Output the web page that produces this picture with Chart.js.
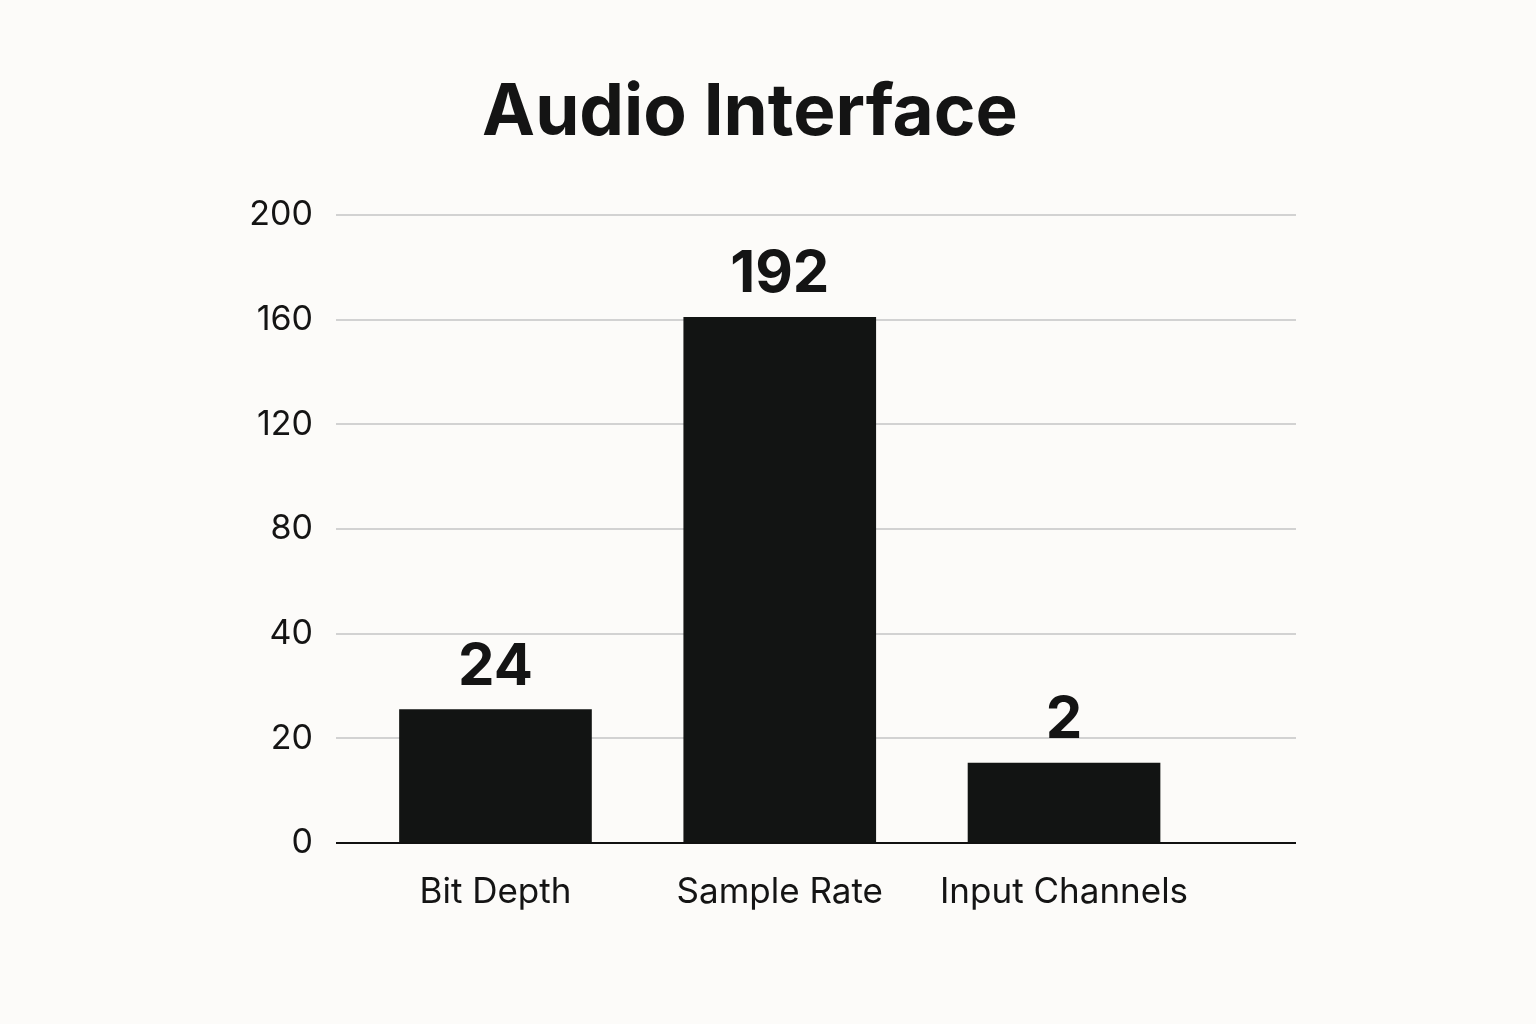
<!DOCTYPE html>
<html>
<head>
<meta charset="utf-8">
<script src="https://cdn.jsdelivr.net/npm/chart.js@4.4.1/dist/chart.umd.min.js"></script>
<style>
  html, body { margin: 0; padding: 0; background: #fcfbf9; }
  #wrap { width: 1536px; height: 1024px; }
</style>
</head>
<body>
<div id="wrap"><canvas id="myChart" width="1536" height="1024"></canvas></div>
<script>
const categories = ['Bit Depth', 'Sample Rate', 'Input Channels']
// printed value above each bar
const shownValues = [24, 192, 2]
// bar top read against the axis ticks
const barHeights = [25.5, 161, 15.3]
const yTicks = [0, 20, 40, 80, 120, 160, 200]

// axis with evenly spaced ticks whose steps differ (0,20,40,80,...)
class StepScale extends Chart.LinearScale {
    buildTicks() {
        return yTicks.map(v => ({ value: v }))
    }
    getPixelForValue(value) {
        const n = yTicks.length - 1
        let i = 0
        while (i < n - 1 && value > yTicks[i + 1]) i++
        const pos = i + (value - yTicks[i]) / (yTicks[i + 1] - yTicks[i])
        return this.getPixelForDecimal(pos / n)
    }
    getValueForPixel(pixel) {
        const n = yTicks.length - 1
        const pos = Math.max(0, Math.min(n, this.getDecimalForPixel(pixel) * n))
        const i = Math.min(n - 1, Math.floor(pos))
        return yTicks[i] + (pos - i) * (yTicks[i + 1] - yTicks[i])
    }
}
StepScale.id = 'step'
StepScale.defaults = Chart.LinearScale.defaults
Chart.register(StepScale)

const valueLabels = {
    id: 'valueLabels',
    afterDatasetsDraw(chart) {
        const ctx = chart.ctx
        const meta = chart.getDatasetMeta(0)
        ctx.save()
        ctx.font = 'bold 58px Inter'
        ctx.fillStyle = '#141414'
        ctx.textAlign = 'center'
        ctx.textBaseline = 'alphabetic'
        meta.data.forEach((bar, i) => {
            ctx.fillText(String(shownValues[i]), bar.x, bar.y - 25)
        })
        ctx.restore()
    }
}

let chart = null

function createGraph() {
    const canvas = document.getElementById('myChart')
    if (chart) {
        chart.destroy()
    }
    chart = new Chart(canvas, {
        type: 'bar',
        data: {
            datasets: [{
                data: categories.map((c, i) => ({ x: i, y: barHeights[i] })),
                backgroundColor: '#121413',
                barThickness: 192,
                borderWidth: 0
            }]
        },
        options: {
            responsive: false,
            animation: false,
            layout: { padding: { left: 204, right: 240, top: 0, bottom: 0 } },
            plugins: {
                legend: { display: false },
                tooltip: { enabled: false },
                title: {
                    display: true,
                    text: 'Audio Interface',
                    color: '#141414',
                    font: { family: 'Inter', size: 71, weight: 'bold', lineHeight: 1.2 },
                    padding: { top: 71, bottom: 59 }
                }
            },
            scales: {
                x: {
                    type: 'linear',
                    offset: false,
                    min: -0.561,
                    max: 2.816,
                    grid: { display: false },
                    border: { display: false },
                    afterBuildTicks(scale) {
                        scale.ticks = categories.map((c, i) => ({ value: i }))
                    },
                    afterFit(scale) { scale.height = 181 },
                    ticks: {
                        padding: 20,
                        color: '#141414',
                        font: { family: 'Inter', size: 35 },
                        maxRotation: 0,
                        autoSkip: false,
                        callback: v => categories[v]
                    }
                },
                y: {
                    type: 'step',
                    min: 0,
                    max: 200,
                    border: { display: false },
                    grid: {
                        drawTicks: false,
                        lineWidth: 2,
                        color: c => c.tick && c.tick.value === 0 ? '#111111' : '#d2d2d2'
                    },
                    afterFit(scale) { scale.width = 132 },
                    ticks: {
                        padding: 23,
                        color: '#141414',
                        font: { family: 'Inter', size: 34 },
                        callback: v => String(v)
                    }
                }
            }
        },
        plugins: [valueLabels]
    })
}

createGraph()
</script>
</body>
</html>
